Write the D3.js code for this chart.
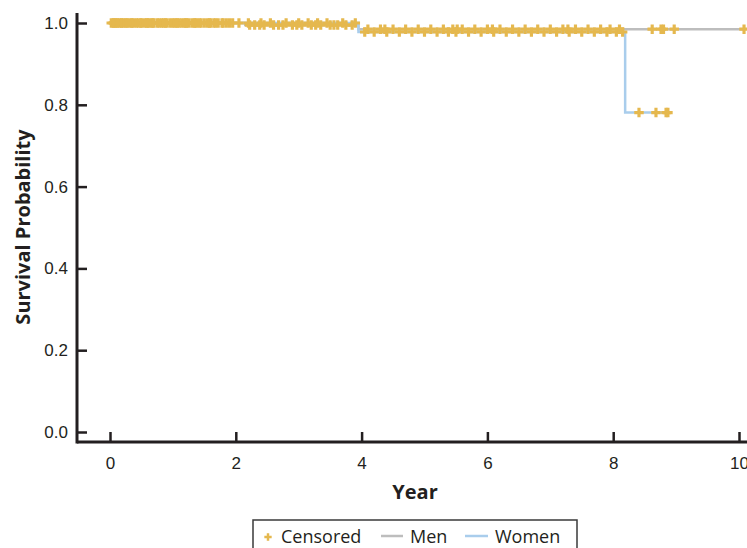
<!DOCTYPE html>
<html>
<head>
<meta charset="utf-8">
<script src="https://cdn.jsdelivr.net/npm/d3@7"></script>
<style>
  body { margin: 0; background: #fff; }
  svg { display: block; font-family: "Open Sans", "Noto Sans", sans-serif; }
</style>
</head>
<body>
<svg id="chart" width="747" height="548"></svg>
<script>
// step curves (time in years, survival)
const menTimes = [0, 2.15, 3.95, 10.08];
const menSurv = [1.0, 0.995, 0.985, 0.985];
const womenTimes = [0, 3.95, 8.19, 8.9];
const womenSurv = [1.0, 0.978, 0.781, 0.781];

// censored observations
const menCensor = [0.02, 0.06, 0.08, 0.15, 0.19, 0.22, 0.3, 0.34, 0.38, 0.45, 0.49, 0.55, 0.62, 0.66, 0.7, 0.78,
  0.82, 0.85, 0.95, 0.99, 1.02, 1.1, 1.14, 1.18, 1.25, 1.3, 1.34, 1.38, 1.45, 1.55, 1.58, 1.65, 1.72, 1.8, 1.9,
  2.05, 2.22, 2.3, 2.38, 2.45, 2.6, 2.68, 2.75, 2.9, 2.97, 3.05, 3.2, 3.27, 3.35, 3.5, 3.56, 3.62, 3.75, 3.85,
  4.1, 4.3, 4.37, 4.5, 4.7, 4.9, 5.1, 5.3, 5.45, 5.52, 5.6, 5.8, 6.0, 6.08, 6.2, 6.4, 6.6, 6.8, 7.0, 7.2, 7.28,
  7.4, 7.6, 7.8, 7.95, 8.1, 8.62, 8.76, 8.8, 8.97, 10.08];
const womenCensor = [0.05, 0.1, 0.12, 0.18, 0.25, 0.27, 0.35, 0.42, 0.5, 0.58, 0.6, 0.68, 0.75, 0.88, 0.9, 1.05,
  1.07, 1.2, 1.22, 1.35, 1.42, 1.5, 1.6, 1.68, 1.78, 1.85, 1.95, 2.2, 2.4, 2.55, 2.8, 3.0, 3.15, 3.3, 3.45, 3.7,
  3.9, 4.05, 4.2, 4.4, 4.6, 4.8, 5.0, 5.2, 5.38, 5.5, 5.7, 5.9, 6.1, 6.3, 6.5, 6.7, 6.9, 7.1, 7.3, 7.5, 7.7,
  7.9, 8.05, 8.15, 8.41, 8.68, 8.84, 8.87];

const xTicks = [0, 2, 4, 6, 8, 10];
const yTicks = [0, 0.2, 0.4, 0.6, 0.8, 1.0];

const svg = d3.select('#chart');
const x = d3.scaleLinear().domain([0, 10]).range([110, 739]);
const y = d3.scaleLinear().domain([0, 1]).range([432, 23]);

const axisX0 = 77, axisY0 = 442;

// survival value of a step curve at time t
function survAt(times, surv, t) {
  let s = surv[0];
  for (let i = 0; i < times.length; i++) {
    if (times[i] <= t) s = surv[i];
  }
  return s;
}

let line = d3.line()
  .x((d) => x(d[0]))
  .y((d) => y(d[1]))
  .curve(d3.curveStepAfter);

svg.append('path')
  .attr('d', line(menTimes.map((t, i) => [t, menSurv[i]])))
  .attr('fill', 'none')
  .attr('stroke', '#bdbdbd')
  .attr('stroke-width', 2.5);

svg.append('path')
  .attr('d', line(womenTimes.map((t, i) => [t, womenSurv[i]])))
  .attr('fill', 'none')
  .attr('stroke', '#a9cdec')
  .attr('stroke-width', 2.5);

// censor marks
let censored = [];
menCensor.forEach((t) => censored.push([t, survAt(menTimes, menSurv, t)]));
womenCensor.forEach((t) => censored.push([t, survAt(womenTimes, womenSurv, t)]));

const cross = d3.symbol().type(d3.symbolCross).size(50);
svg.append('g')
  .selectAll('path')
  .data(censored)
  .join('path')
  .attr('transform', (d) => `translate(${x(d[0])},${y(d[1])})`)
  .attr('d', cross)
  .attr('fill', '#e5b84e');

// axes
const xAxis = svg.append('g')
  .attr('transform', `translate(0,${axisY0})`)
  .call(d3.axisBottom(x).tickValues(xTicks).tickSizeInner(-10).tickSizeOuter(0).tickPadding(12));
xAxis.select('.domain').remove();
xAxis.selectAll('.tick line').attr('stroke', '#231f20').attr('stroke-width', 2.5);
xAxis.selectAll('.tick text').attr('font-size', 17).attr('fill', '#231f20').attr('dy', '0.9em');

const yAxis = svg.append('g')
  .attr('transform', `translate(${axisX0},0)`)
  .call(d3.axisLeft(y).tickValues(yTicks).tickFormat(d3.format('.1f')).tickSizeInner(-10).tickSizeOuter(0).tickPadding(9));
yAxis.select('.domain').remove();
yAxis.selectAll('.tick line').attr('stroke', '#231f20').attr('stroke-width', 2.5);
yAxis.selectAll('.tick text').attr('font-size', 17).attr('fill', '#231f20');

svg.append('line')
  .attr('x1', axisX0).attr('x2', 747)
  .attr('y1', axisY0).attr('y2', axisY0)
  .attr('stroke', '#231f20').attr('stroke-width', 3);
svg.append('line')
  .attr('x1', axisX0).attr('x2', axisX0)
  .attr('y1', 13).attr('y2', axisY0 + 1.5)
  .attr('stroke', '#231f20').attr('stroke-width', 3);

// titles
svg.append('text')
  .attr('x', 415).attr('y', 499)
  .attr('text-anchor', 'middle')
  .attr('font-size', 20).attr('font-weight', 'bold').attr('fill', '#231f20')
  .text('Year');

svg.append('text')
  .attr('transform', 'translate(30,227) rotate(-90)')
  .attr('text-anchor', 'middle')
  .attr('font-size', 20).attr('font-weight', 'bold').attr('fill', '#231f20')
  .text('Survival Probability');

// legend
const lg = svg.append('g');
lg.append('rect')
  .attr('x', 253).attr('y', 520).attr('width', 324).attr('height', 40)
  .attr('fill', '#fff').attr('stroke', '#3a3a3a').attr('stroke-width', 1.5);
lg.append('path')
  .attr('transform', 'translate(268,537)')
  .attr('d', d3.symbol().type(d3.symbolCross).size(30))
  .attr('fill', '#e5b84e');
lg.append('text').attr('x', 281).attr('y', 543).attr('font-size', 18).attr('fill', '#231f20').text('Censored');
lg.append('line').attr('x1', 381).attr('x2', 403).attr('y1', 536).attr('y2', 536)
  .attr('stroke', '#bdbdbd').attr('stroke-width', 2.5);
lg.append('text').attr('x', 410).attr('y', 543).attr('font-size', 18).attr('fill', '#231f20').text('Men');
lg.append('line').attr('x1', 465).attr('x2', 488).attr('y1', 536).attr('y2', 536)
  .attr('stroke', '#a9cdec').attr('stroke-width', 2.5);
lg.append('text').attr('x', 495).attr('y', 543).attr('font-size', 18).attr('fill', '#231f20').text('Women');
</script>
</body>
</html>
